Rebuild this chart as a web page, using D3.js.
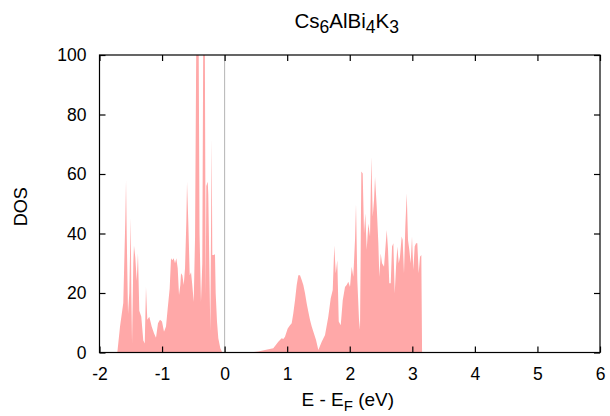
<!DOCTYPE html>
<html>
<head>
<meta charset="utf-8">
<script src="https://cdn.jsdelivr.net/npm/d3@7"></script>
<style>
  html, body { margin: 0; padding: 0; background: #fff; }
  svg { display: block; font-family: "Liberation Sans", Arial, sans-serif; }
</style>
</head>
<body>
<svg id="chart" width="610" height="416"></svg>
<script>
// Density of states of Cs6AlBi4K3 around the Fermi level
const energy = [
  -2.0, -1.715, -1.672, -1.620, -1.587, -1.576, -1.565, -1.544, -1.524, -1.501,
  -1.491, -1.480, -1.460, -1.449, -1.428, -1.405, -1.385, -1.364, -1.332, -1.300,
  -1.277, -1.257, -1.236, -1.204, -1.166, -1.129, -1.097, -1.065, -1.033, -1.001,
  -0.969, -0.937, -0.910, -0.878, -0.857, -0.836, -0.814, -0.793, -0.772, -0.750,
  -0.729, -0.708, -0.697, -0.676, -0.654, -0.633, -0.612, -0.601, -0.581, -0.558,
  -0.537, -0.517, -0.494, -0.473, -0.453, -0.434, -0.414, -0.401, -0.378, -0.357,
  -0.338, -0.319, -0.302, -0.293, -0.270, -0.261, -0.239, -0.229, -0.207, -0.197,
  -0.175, -0.154, -0.143, -0.122, -0.101, -0.069, -0.037,
  0.406, 0.539, 0.645, 0.778, 0.858, 0.912, 0.938, 0.965, 1.008, 1.045,
  1.072, 1.098, 1.125, 1.152, 1.178, 1.205, 1.232, 1.258, 1.285, 1.312,
  1.338, 1.365, 1.392, 1.461, 1.498, 1.552, 1.605, 1.657, 1.696, 1.728,
  1.753, 1.776, 1.801, 1.824, 1.856, 1.888, 1.924, 1.951, 1.977, 2.004,
  2.031, 2.057, 2.084, 2.100, 2.121, 2.148, 2.164, 2.185, 2.207, 2.228,
  2.249, 2.271, 2.297, 2.324, 2.345, 2.367, 2.388, 2.404, 2.431, 2.457,
  2.473, 2.495, 2.516, 2.548, 2.568, 2.591, 2.612, 2.632, 2.655, 2.676,
  2.697, 2.719, 2.740, 2.761, 2.783, 2.803, 2.830, 2.846, 2.867, 2.888,
  2.911, 2.931, 2.952, 2.974, 2.995, 3.016, 3.038, 3.059, 3.080, 3.102,
  3.123, 3.144, 3.156, 6.0
];

const dos = [
  0, 0, 8.7, 16.6, 45, 58, 40, 13, 20, 45.4,
  20, 3, 30, 36, 32, 24, 33.4, 14, 12, 4,
  3, 22, 11, 12, 8.7, 6.5, 5, 9.8, 11, 10.4,
  7, 8.7, 14.8, 21.6, 31.7, 31, 31.7, 30, 31.7, 28.3,
  19.3, 22.7, 26.6, 26, 22.7, 28.3, 44, 57.4, 44, 26,
  27, 22.7, 17, 38.4, 105, 140, 100, 40, 17, 30,
  125, 120, 19.3, 56, 57.4, 53, 21.7, 7, 72, 32.8,
  32.8, 33, 20, 10.4, 4.8, 1.4, 0,
  0, 0.3, 0.8, 1.4, 3.6, 4.8, 4.5, 5.3, 8.1, 9.2,
  9.8, 13.2, 17.6, 22.7, 26, 26, 24.4, 22.7, 19.9, 16.5,
  13.7, 10.9, 8.7, 4.2, 0.8, 3.6, 5.9, 12, 18.2, 21,
  36, 26.6, 31, 10.4, 9.2, 17.6, 22, 22.7, 23.8, 22,
  28.8, 25.5, 37.8, 50, 24.4, 10.9, 7.6, 60.8, 60.2, 40,
  46.8, 34.5, 43.4, 39, 65.8, 45.6, 51.3, 59, 49, 36.7,
  25.5, 33.3, 30, 28.8, 34.5, 41.2, 34.5, 23.3, 23.3, 35.6,
  36.7, 19.9, 28.8, 35.6, 30, 32.2, 39, 37.8, 26.6, 42.3,
  53.5, 37.8, 34.5, 30, 39, 27.7, 35.6, 36.7, 36.7, 26.6,
  32.2, 32.8, 0, 0
];

const xTicks = [-2, -1, 0, 1, 2, 3, 4, 5, 6];
const yTicks = [0, 20, 40, 60, 80, 100];

const svg = d3.select("#chart");
const margin = { left: 99.5, right: 10, top: 55, bottom: 63.5 };
const W = 610, H = 416;
const plotW = W - margin.left - margin.right;
const plotH = H - margin.top - margin.bottom;

const x = d3.scaleLinear().domain([-2, 6]).range([margin.left, margin.left + plotW]);
const y = d3.scaleLinear().domain([0, 100]).range([margin.top + plotH, margin.top]);

const points = energy.map((e, i) => ({ e, d: dos[i] }));

svg.append("clipPath").attr("id", "plotClip")
  .append("rect")
  .attr("x", margin.left).attr("y", margin.top)
  .attr("width", plotW).attr("height", plotH);

// Filled DOS curve
const area = d3.area()
  .x(p => x(p.e))
  .y0(y(0))
  .y1(p => y(p.d));

svg.append("path")
  .datum(points)
  .attr("clip-path", "url(#plotClip)")
  .attr("fill", "#ffa8a8")
  .attr("d", area);

// Fermi level marker
svg.append("line")
  .attr("x1", x(0)).attr("x2", x(0))
  .attr("y1", margin.top).attr("y2", margin.top + plotH)
  .attr("stroke", "#b4b4b4").attr("stroke-width", 1);

const tickLen = 6;
const fontTick = "17.5px";
const plainNumber = d => String(d);   // ASCII hyphen for negatives

// Axes: ticks point inward on all four sides
const axisB = svg.append("g")
  .attr("transform", `translate(0,${margin.top + plotH})`)
  .call(d3.axisBottom(x).tickValues(xTicks).tickFormat(plainNumber)
    .tickSizeInner(-tickLen).tickSizeOuter(0).tickPadding(15));
const axisT = svg.append("g")
  .attr("transform", `translate(0,${margin.top})`)
  .call(d3.axisTop(x).tickValues(xTicks).tickFormat("")
    .tickSizeInner(-tickLen).tickSizeOuter(0));
const axisL = svg.append("g")
  .attr("transform", `translate(${margin.left},0)`)
  .call(d3.axisLeft(y).tickValues(yTicks).tickFormat(plainNumber)
    .tickSizeInner(-tickLen).tickSizeOuter(0).tickPadding(13));
const axisR = svg.append("g")
  .attr("transform", `translate(${margin.left + plotW},0)`)
  .call(d3.axisRight(y).tickValues(yTicks).tickFormat("")
    .tickSizeInner(-tickLen).tickSizeOuter(0));

[axisB, axisT, axisL, axisR].forEach(g => {
  g.select(".domain").remove();
  g.selectAll(".tick line").attr("stroke", "#000").attr("stroke-width", 1.2);
  g.selectAll(".tick text")
    .attr("fill", "#000")
    .style("font-size", fontTick)
    .style("font-family", "'Liberation Sans', Arial, sans-serif");
});

// Plot frame
svg.append("rect")
  .attr("x", margin.left).attr("y", margin.top)
  .attr("width", plotW).attr("height", plotH)
  .attr("fill", "none").attr("stroke", "#000").attr("stroke-width", 1.2);

// Writes text parts into a <text>, lowering the subscript parts
function writeParts(textSel, parts, subSize, shift) {
  let lowered = false;
  parts.forEach(([t, sub]) => {
    const ts = textSel.append("tspan").text(t);
    if (sub && !lowered) { ts.attr("dy", shift); lowered = true; }
    else if (!sub && lowered) { ts.attr("dy", -shift); lowered = false; }
    if (sub) ts.style("font-size", subSize);
  });
}

// Title
const title = svg.append("text")
  .attr("x", x(2) - 3).attr("y", 28)
  .attr("text-anchor", "middle")
  .style("font-size", "20.5px").attr("fill", "#000");
writeParts(title,
  [["Cs", false], ["6", true], ["AlBi", false], ["4", true], ["K", false], ["3", true]],
  "17.5px", 5);

// X axis label
const xl = svg.append("text")
  .attr("x", x(2) - 2).attr("y", 406)
  .attr("text-anchor", "middle")
  .style("font-size", "19px").attr("fill", "#000");
writeParts(xl, [["E - E", false], ["F", true], [" (eV)", false]], "15px", 5);

// Y axis label
svg.append("text")
  .attr("transform", `translate(27,${y(50) + 3}) rotate(-90)`)
  .attr("text-anchor", "middle")
  .style("font-size", "18px").attr("fill", "#000")
  .text("DOS");
</script>
</body>
</html>
